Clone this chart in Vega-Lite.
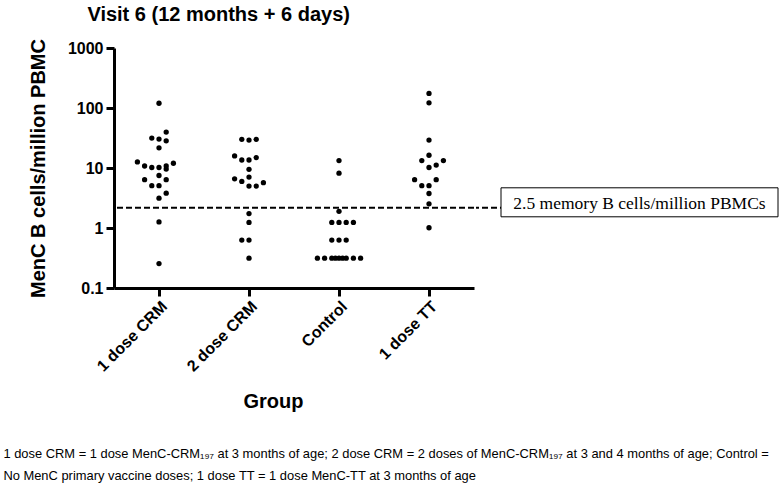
{
  "$schema": "https://vega.github.io/schema/vega-lite/v6.json",
  "padding": {"left": 3, "top": 4, "right": 0, "bottom": 0},
  "config": {
    "view": {"stroke": null},
    "font": "Liberation Sans",
    "axis": {
      "grid": false,
      "domainColor": "black",
      "domainWidth": 3,
      "tickColor": "black",
      "tickWidth": 3,
      "tickSize": 8,
      "labelFont": "Liberation Sans",
      "labelFontWeight": "bold",
      "labelFontSize": 16,
      "labelColor": "black",
      "titleFont": "Liberation Sans",
      "titleFontSize": 20,
      "titleFontWeight": "bold",
      "titleColor": "black"
    }
  },
  "title": {
    "text": [
      "1 dose CRM = 1 dose MenC-CRM₁₉₇ at 3 months of age; 2 dose CRM = 2 doses of MenC-CRM₁₉₇ at 3 and 4 months of age; Control =",
      "No MenC primary vaccine doses; 1 dose TT = 1 dose MenC-TT at 3 months of age"
    ],
    "orient": "bottom",
    "anchor": "start",
    "frame": "bounds",
    "font": "Liberation Sans",
    "fontSize": 12.9,
    "fontWeight": "normal",
    "lineHeight": 22,
    "color": "black",
    "offset": 37,
    "dx": -25
  },
  "datasets": {
    "cells": [
      {"group": "1 dose CRM", "value": 120, "slot": 0},
      {"group": "1 dose CRM", "value": 39.7, "slot": 1},
      {"group": "1 dose CRM", "value": 31.5, "slot": -1},
      {"group": "1 dose CRM", "value": 30.3, "slot": 0},
      {"group": "1 dose CRM", "value": 28.4, "slot": 1},
      {"group": "1 dose CRM", "value": 21.7, "slot": 0},
      {"group": "1 dose CRM", "value": 12.6, "slot": -3},
      {"group": "1 dose CRM", "value": 10.8, "slot": -2},
      {"group": "1 dose CRM", "value": 10.2, "slot": -1},
      {"group": "1 dose CRM", "value": 10.2, "slot": 0},
      {"group": "1 dose CRM", "value": 10.8, "slot": 1},
      {"group": "1 dose CRM", "value": 9.6, "slot": 1},
      {"group": "1 dose CRM", "value": 12.0, "slot": 2},
      {"group": "1 dose CRM", "value": 7.5, "slot": 0},
      {"group": "1 dose CRM", "value": 6.4, "slot": -2},
      {"group": "1 dose CRM", "value": 6.4, "slot": 1},
      {"group": "1 dose CRM", "value": 5.07, "slot": -1},
      {"group": "1 dose CRM", "value": 5.07, "slot": 0},
      {"group": "1 dose CRM", "value": 3.8, "slot": 1},
      {"group": "1 dose CRM", "value": 3.14, "slot": 0},
      {"group": "1 dose CRM", "value": 1.26, "slot": 0},
      {"group": "1 dose CRM", "value": 0.255, "slot": 0},
      {"group": "2 dose CRM", "value": 30, "slot": -1},
      {"group": "2 dose CRM", "value": 29.2, "slot": 0},
      {"group": "2 dose CRM", "value": 30, "slot": 1},
      {"group": "2 dose CRM", "value": 15.9, "slot": -2},
      {"group": "2 dose CRM", "value": 13.6, "slot": -1},
      {"group": "2 dose CRM", "value": 13.6, "slot": 0},
      {"group": "2 dose CRM", "value": 14.9, "slot": 1},
      {"group": "2 dose CRM", "value": 9.5, "slot": 0},
      {"group": "2 dose CRM", "value": 7.06, "slot": 0},
      {"group": "2 dose CRM", "value": 6.6, "slot": -2},
      {"group": "2 dose CRM", "value": 5.98, "slot": -1},
      {"group": "2 dose CRM", "value": 4.99, "slot": 0},
      {"group": "2 dose CRM", "value": 4.99, "slot": 1},
      {"group": "2 dose CRM", "value": 5.69, "slot": 2},
      {"group": "2 dose CRM", "value": 1.74, "slot": 0},
      {"group": "2 dose CRM", "value": 1.24, "slot": 0},
      {"group": "2 dose CRM", "value": 0.63, "slot": -1},
      {"group": "2 dose CRM", "value": 0.63, "slot": 0},
      {"group": "2 dose CRM", "value": 0.314, "slot": 0},
      {"group": "Control", "value": 13.3, "slot": 0},
      {"group": "Control", "value": 8.2, "slot": 0},
      {"group": "Control", "value": 1.9, "slot": 0},
      {"group": "Control", "value": 1.24, "slot": -1},
      {"group": "Control", "value": 1.24, "slot": 0},
      {"group": "Control", "value": 1.24, "slot": 1},
      {"group": "Control", "value": 1.24, "slot": 2},
      {"group": "Control", "value": 0.63, "slot": -1},
      {"group": "Control", "value": 0.63, "slot": 0},
      {"group": "Control", "value": 0.63, "slot": 1},
      {"group": "Control", "value": 0.314, "slot": -3},
      {"group": "Control", "value": 0.314, "slot": -2},
      {"group": "Control", "value": 0.314, "slot": -1},
      {"group": "Control", "value": 0.314, "slot": -0.5},
      {"group": "Control", "value": 0.314, "slot": 0},
      {"group": "Control", "value": 0.314, "slot": 0.5},
      {"group": "Control", "value": 0.314, "slot": 1},
      {"group": "Control", "value": 0.314, "slot": 2},
      {"group": "Control", "value": 0.314, "slot": 3},
      {"group": "1 dose TT", "value": 175, "slot": 0},
      {"group": "1 dose TT", "value": 122, "slot": 0},
      {"group": "1 dose TT", "value": 29.2, "slot": 0},
      {"group": "1 dose TT", "value": 16.3, "slot": 0},
      {"group": "1 dose TT", "value": 13.3, "slot": -1},
      {"group": "1 dose TT", "value": 13.3, "slot": 2},
      {"group": "1 dose TT", "value": 11.2, "slot": 1},
      {"group": "1 dose TT", "value": 10.2, "slot": 0},
      {"group": "1 dose TT", "value": 6.4, "slot": -2},
      {"group": "1 dose TT", "value": 6.4, "slot": 1},
      {"group": "1 dose TT", "value": 5.07, "slot": -1},
      {"group": "1 dose TT", "value": 5.07, "slot": 0},
      {"group": "1 dose TT", "value": 3.76, "slot": 0},
      {"group": "1 dose TT", "value": 2.53, "slot": 0},
      {"group": "1 dose TT", "value": 1.01, "slot": 0}
    ],
    "cutoff": [
      {"label": "2.5 memory B cells/million PBMCs", "value": 2.17}
    ]
  },
  "vconcat": [
    {
      "title": {
        "text": "Visit 6 (12 months + 6 days)",
        "anchor": "start",
        "frame": "bounds",
        "fontSize": 20,
        "fontWeight": "bold",
        "color": "black",
        "dx": 59,
        "offset": 14
      },
      "spacing": 0,
      "resolve": {"scale": {"y": "shared"}},
      "hconcat": [
        {
          "width": 360,
          "height": 240,
          "layer": [
            {
              "data": {"name": "cells"},
              "mark": {"type": "circle", "size": 28, "color": "black", "opacity": 1},
              "encoding": {
                "x": {
                  "field": "group",
                  "type": "nominal",
                  "sort": ["1 dose CRM", "2 dose CRM", "Control", "1 dose TT"],
                  "scale": {"type": "band", "paddingInner": 0, "paddingOuter": 0},
                  "axis": {"title": "Group", "labelAngle": -45, "labelPadding": 2, "titlePadding": 17, "titleX": 159}
                },
                "xOffset": {
                  "field": "slot",
                  "type": "quantitative",
                  "scale": {"domain": [-6.25, 6.25]}
                },
                "y": {
                  "field": "value",
                  "type": "quantitative",
                  "title": "MenC B cells/million PBMC",
                  "scale": {"type": "log", "domain": [0.1, 1000]},
                  "axis": {"values": [0.1, 1, 10, 100, 1000], "format": "~g", "labelPadding": 3, "titlePadding": 19}
                }
              }
            },
            {
              "data": {"name": "cutoff"},
              "mark": {"type": "rule", "strokeDash": [6, 3], "strokeWidth": 2, "color": "black"},
              "encoding": {
                "y": {
                  "field": "value",
                  "type": "quantitative",
                  "title": "MenC B cells/million PBMC",
                  "scale": {"type": "log", "domain": [0.1, 1000]}
                }
              }
            }
          ]
        },
        {
          "width": 300,
          "height": 240,
          "data": {"name": "cutoff"},
          "layer": [
            {
              "mark": {"type": "rule", "strokeDash": [6, 3], "strokeWidth": 2, "color": "black"},
              "encoding": {
                "y": {"field": "value", "type": "quantitative", "scale": {"type": "log", "domain": [0.1, 1000]}, "axis": null}
              }
            },
            {
              "mark": {"type": "tick", "size": 277, "thickness": 29, "fill": "white", "stroke": "black", "strokeWidth": 1, "opacity": 1, "xOffset": 13.5, "yOffset": -5.5},
              "encoding": {
                "y": {"field": "value", "type": "quantitative", "scale": {"type": "log", "domain": [0.1, 1000]}, "axis": null}
              }
            },
            {
              "mark": {"type": "text", "font": "Liberation Serif", "fontSize": 17.5, "color": "black", "xOffset": 13.5, "yOffset": -3.5},
              "encoding": {
                "y": {"field": "value", "type": "quantitative", "scale": {"type": "log", "domain": [0.1, 1000]}, "axis": null},
                "text": {"field": "label"}
              }
            }
          ]
        }
      ]
    }
  ]
}
